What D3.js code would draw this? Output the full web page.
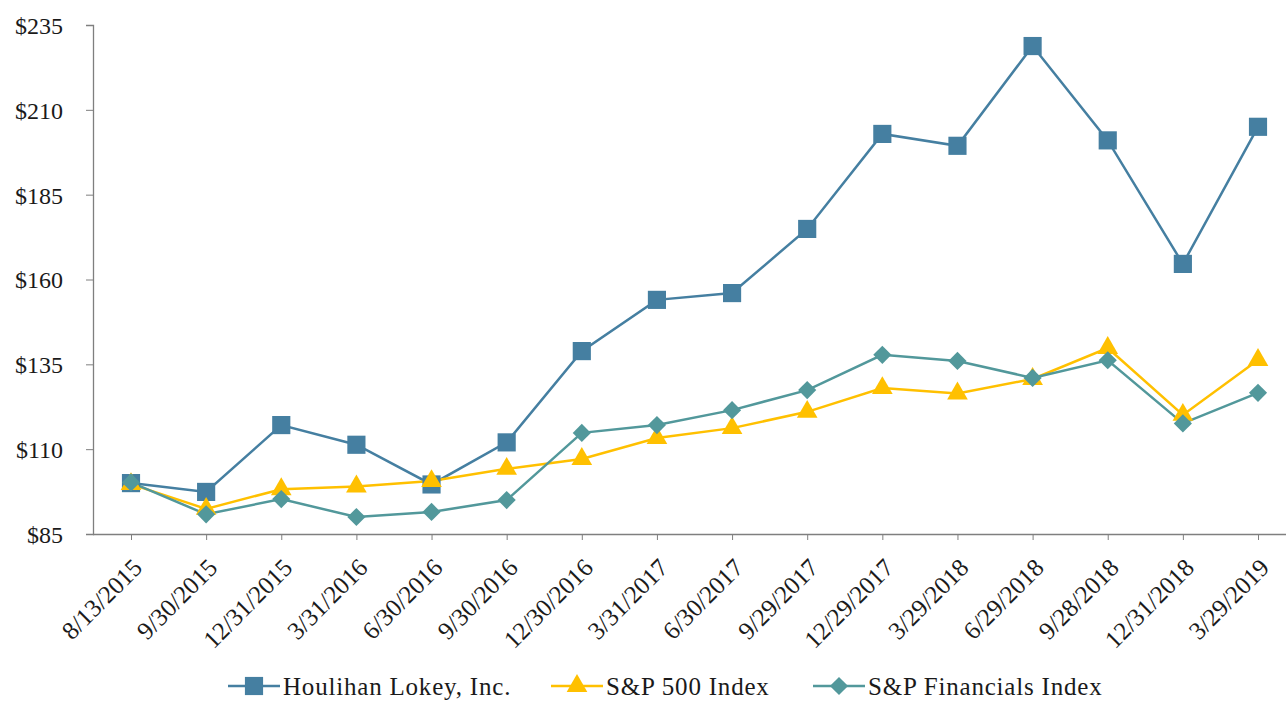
<!DOCTYPE html>
<html>
<head>
<meta charset="utf-8">
<script src="https://cdn.jsdelivr.net/npm/d3@7"></script>
<style>
  body { margin: 0; background: #fff; }
  text { font-family: "Liberation Serif", "Times New Roman", serif; fill: #1a1a1a; }
</style>
</head>
<body>
<svg width="1286" height="702"></svg>
<script>
const dates = ["8/13/2015", "9/30/2015", "12/31/2015", "3/31/2016", "6/30/2016", "9/30/2016",
  "12/30/2016", "3/31/2017", "6/30/2017", "9/29/2017", "12/29/2017", "3/29/2018",
  "6/29/2018", "9/28/2018", "12/31/2018", "3/29/2019"];
const houlihan = [100, 97.4, 117.1, 111.3, 99.6, 112.0, 138.9, 154.0, 156.0, 174.9, 202.9, 199.4, 228.8, 201.0, 164.6, 205.0];
const sp500 = [99.7, 92.4, 98.2, 99.0, 100.6, 104.2, 107.1, 113.3, 116.2, 121.0, 128.0, 126.4, 130.7, 139.8, 120.1, 136.3];
const financials = [100.2, 90.8, 95.3, 90.0, 91.5, 95.0, 114.8, 117.1, 121.5, 127.4, 137.8, 136.0, 131.0, 136.2, 117.6, 126.6];
const yTicks = [85, 110, 135, 160, 185, 210, 235];

const series = [
  { name: "Houlihan Lokey, Inc.", values: houlihan, color: "#457fa1", shape: d3.symbolSquare, size: 330, rot: 0 },
  { name: "S&P 500 Index", values: sp500, color: "#ffc000", shape: d3.symbolTriangle, size: 185, rot: 0 },
  { name: "S&P Financials Index", values: financials, color: "#52989b", shape: d3.symbolSquare, size: 165, rot: 45 }
];

const svg = d3.select("svg");

const x = d3.scalePoint()
  .domain(dates)
  .range([131, 1258]);

const y = d3.scaleLinear()
  .domain([85, 235])
  .range([534, 25]);

// y axis
const yAxis = svg.append("g")
  .attr("transform", "translate(93,0)")
  .call(d3.axisLeft(y).tickValues(yTicks).tickSize(7).tickFormat(d => "$" + d));
yAxis.select(".domain").attr("stroke", "#7f7f7f").attr("stroke-width", 1.3);
yAxis.selectAll(".tick line").attr("stroke", "#7f7f7f");
yAxis.selectAll(".tick text")
  .attr("x", -30)
  .attr("dy", "0.35em")
  .style("font-size", "24px")
  .attr("fill", "#1a1a1a");

// x axis
const xAxis = svg.append("g")
  .attr("transform", "translate(0,534)")
  .call(d3.axisBottom(x).tickSize(6).tickSizeOuter(0));
xAxis.select(".domain").attr("d", "M93,0.5H1286").attr("stroke", "#7f7f7f").attr("stroke-width", 1.3);
xAxis.selectAll(".tick line").attr("stroke", "#7f7f7f");
xAxis.selectAll(".tick text")
  .attr("transform", "translate(6,29) rotate(-45)")
  .attr("text-anchor", "end")
  .attr("dy", "0.35em")
  .attr("y", 0)
  .attr("x", 0)
  .style("font-size", "25px")
  .attr("fill", "#1a1a1a");

const line = d3.line()
  .x((d, i) => x(dates[i]))
  .y(d => y(d));

series.forEach(s => {
  svg.append("path")
    .datum(s.values)
    .attr("fill", "none")
    .attr("stroke", s.color)
    .attr("stroke-width", 2.5)
    .attr("d", line);
});

series.forEach(s => {
  const sym = d3.symbol().type(s.shape).size(s.size);
  svg.append("g").selectAll("path")
    .data(s.values)
    .join("path")
    .attr("d", sym)
    .attr("transform", (d, i) => `translate(${x(dates[i])},${y(d)}) rotate(${s.rot})`)
    .attr("fill", s.color);
});

// legend
const legendX = [228, 551, 813];
const legend = svg.append("g").attr("transform", "translate(0,686)");
series.forEach((s, i) => {
  const g = legend.append("g").attr("transform", `translate(${legendX[i]},0)`);
  g.append("line").attr("x1", 0).attr("x2", 52).attr("stroke", s.color).attr("stroke-width", 2.5);
  g.append("path").attr("d", d3.symbol().type(s.shape).size(s.size)())
    .attr("transform", `translate(26,0) rotate(${s.rot})`).attr("fill", s.color);
  g.append("text").attr("x", 55).attr("dy", "0.35em")
    .style("font-size", "25px").style("letter-spacing", "0.8px").text(s.name);
});
</script>
</body>
</html>
